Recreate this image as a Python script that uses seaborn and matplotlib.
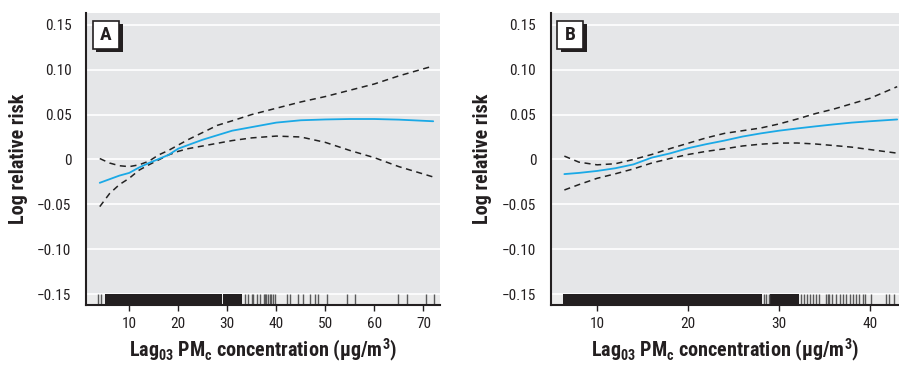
import numpy as np
import pandas as pd
import seaborn as sns
import matplotlib.pyplot as plt
from matplotlib import font_manager
from matplotlib.patches import Rectangle

# panel A
x_a = [4, 6, 8, 10, 12, 14, 16, 18, 20, 22, 25, 28, 31, 35, 40, 45, 50, 55, 60, 65, 72]
fit_a = [-0.026, -0.022, -0.018, -0.015, -0.009, -0.004, 0.0005, 0.005, 0.012, 0.016, 0.022,
         0.027, 0.032, 0.036, 0.041, 0.0436, 0.0445, 0.045, 0.045, 0.0443, 0.0425]
upper_a = [0.001, -0.004, -0.007, -0.008, -0.006, -0.002, 0.005, 0.010, 0.016, 0.022, 0.030,
           0.038, 0.043, 0.050, 0.057, 0.064, 0.070, 0.077, 0.084, 0.093, 0.104]
lower_a = [-0.0525, -0.038, -0.028, -0.021, -0.012, -0.006, -0.0005, 0.005, 0.009, 0.012, 0.015,
           0.018, 0.021, 0.024, 0.026, 0.025, 0.019, 0.010, 0.002, -0.008, -0.0195]
rug_a = [3.7, 4.2, 33.6, 34.3, 35.0, 35.3, 36.0, 36.7, 37.4, 37.7, 38.0, 38.3, 38.7, 39.0,
         39.4, 39.7, 42.1, 42.8, 44.5, 45.4, 46.9, 47.8, 48.6, 50.3, 54.5, 56.1, 64.9, 66.6,
         70.6, 72.1]
dense_a = [(5.0, 28.9), (29.2, 33.0)]

# panel B
x_b = [6.4, 8, 10, 12, 14, 16, 18, 20, 22, 24, 26, 28, 30, 32, 34, 36, 38, 40, 43]
fit_b = [-0.0163, -0.015, -0.0128, -0.0098, -0.0055, 0.002, 0.0067, 0.0125, 0.017, 0.021,
         0.0255, 0.029, 0.032, 0.0345, 0.0368, 0.039, 0.041, 0.0425, 0.0445]
upper_b = [0.0037, -0.003, -0.006, -0.0048, 0.0, 0.0055, 0.012, 0.018, 0.024, 0.029, 0.032,
           0.035, 0.0395, 0.045, 0.051, 0.056, 0.062, 0.068, 0.081]
lower_b = [-0.034, -0.028, -0.021, -0.016, -0.0105, -0.004, 0.001, 0.0055, 0.009, 0.0118,
           0.015, 0.017, 0.0182, 0.0183, 0.0172, 0.0155, 0.0137, 0.011, 0.007]
rug_b = [28.3, 28.6, 28.9, 32.4, 32.8, 33.1, 33.4, 33.7, 34.1, 34.4, 35.2, 35.4, 35.5, 35.8,
         36.3, 36.7, 37.0, 37.4, 37.8, 38.1, 38.5, 38.8, 39.2, 39.5, 40.1, 41.8, 42.1, 42.7]
dense_b = [(6.2, 28.1), (29.0, 32.2)]

y_ticks = [-0.15, -0.10, -0.05, 0, 0.05, 0.10, 0.15]
y_labels = ["\u22120.15", "\u22120.10", "\u22120.05", "0", "0.05", "0.10", "0.15"]

sns.set_style("darkgrid", {"axes.facecolor": "#e5e6e8", "grid.color": "white"})

# pick a narrow face if one is around
names = {f.name for f in font_manager.fontManager.ttflist}
narrow = [n for n in ["Liberation Sans Narrow", "DejaVu Sans Condensed", "Roboto Condensed",
                      "Open Sans Condensed"] if n in names]
base = narrow[0] if narrow else "DejaVu Sans"
plt.rcParams['font.family'] = [base, 'DejaVu Sans']
plt.rcParams['font.stretch'] = 'condensed'
plt.rcParams['mathtext.fontset'] = 'custom'
plt.rcParams['mathtext.rm'] = base + ':bold'
plt.rcParams['mathtext.bf'] = base + ':bold'
scale = 1.0 if narrow else 0.86

fig = plt.figure(figsize=(8.99, 3.65), dpi=100)
ax_a = fig.add_axes([0.0957, 0.1644, 0.3938, 0.80])
ax_b = fig.add_axes([0.6126, 0.1644, 0.3874, 0.80])

panels = [
    (ax_a, "A", x_a, fit_a, upper_a, lower_a, rug_a, dense_a, (1.2, 73.4),
     [10, 20, 30, 40, 50, 60, 70], -0.164),
    (ax_b, "B", x_b, fit_b, upper_b, lower_b, rug_b, dense_b, (4.9, 43.2),
     [10, 20, 30, 40], -0.168),
]

xlab = r"Lag$_{03}$ PM$_{\mathrm{c}}$ concentration (" + "\u00b5" + r"g/m$^{3}$)"

for ax, letter, xs, fit, up, lo, rug, dense, xlim, xticks, ylab_x in panels:
    df = pd.DataFrame({"x": xs, "fit": fit, "upper": up, "lower": lo})
    ax.axhspan(-0.2, -0.15, color="#ebebeb", lw=0, zorder=0.5)
    sns.lineplot(data=df, x="x", y="upper", ax=ax, color="#222222", lw=1.1,
                 linestyle=(0, (4, 3)))
    sns.lineplot(data=df, x="x", y="lower", ax=ax, color="#222222", lw=1.1,
                 linestyle=(0, (4, 3)))
    sns.lineplot(data=df, x="x", y="fit", ax=ax, color="#1aa9e6", lw=1.3)
    for a, b in dense:
        ax.axvspan(a, b, ymin=0, ymax=0.037, color="#231f20", lw=0, zorder=2)
    sns.rugplot(x=rug, ax=ax, height=0.037, color="#5a5a5a", lw=1.1, expand_margins=False)

    ax.set_xlim(*xlim)
    ax.set_ylim(-0.162, 0.163)
    ax.set_xticks(xticks)
    ax.set_yticks(y_ticks)
    ax.set_yticklabels(y_labels)
    ax.grid(axis="x", visible=False)
    ax.grid(axis="y", color="white", lw=1.2)
    for side in ["top", "right"]:
        ax.spines[side].set_visible(False)
    for side in ["left", "bottom"]:
        ax.spines[side].set_visible(True)
        ax.spines[side].set_color("#231f20")
        ax.spines[side].set_linewidth(1.5)
    ax.tick_params(axis="x", bottom=True, length=4, width=1, color="#231f20",
                   labelsize=11 * scale, pad=5, labelcolor="#231f20")
    ax.tick_params(axis="y", left=False, labelsize=11 * scale, pad=7, labelcolor="#231f20")
    ax.set_ylabel("Log relative risk", fontsize=14.5 * scale, fontweight="bold", color="#231f20")
    ax.yaxis.set_label_coords(ylab_x, 0.5)
    ax.set_xlabel(xlab, fontsize=14.5 * scale, fontweight="bold", color="#231f20")
    ax.xaxis.set_label_coords(0.5, -0.11)

    # panel letter box with drop shadow
    ax.add_patch(Rectangle((0.029, 0.865), 0.075, 0.098, transform=ax.transAxes,
                           facecolor="#231f20", edgecolor="none", zorder=5))
    ax.add_patch(Rectangle((0.019, 0.876), 0.075, 0.098, transform=ax.transAxes,
                           facecolor="white", edgecolor="#231f20", lw=1.2, zorder=6))
    ax.text(0.0565, 0.925, letter, transform=ax.transAxes, ha="center", va="center",
            fontsize=14, fontweight="bold", color="#231f20", zorder=7)

plt.savefig("out.png", dpi=100)
